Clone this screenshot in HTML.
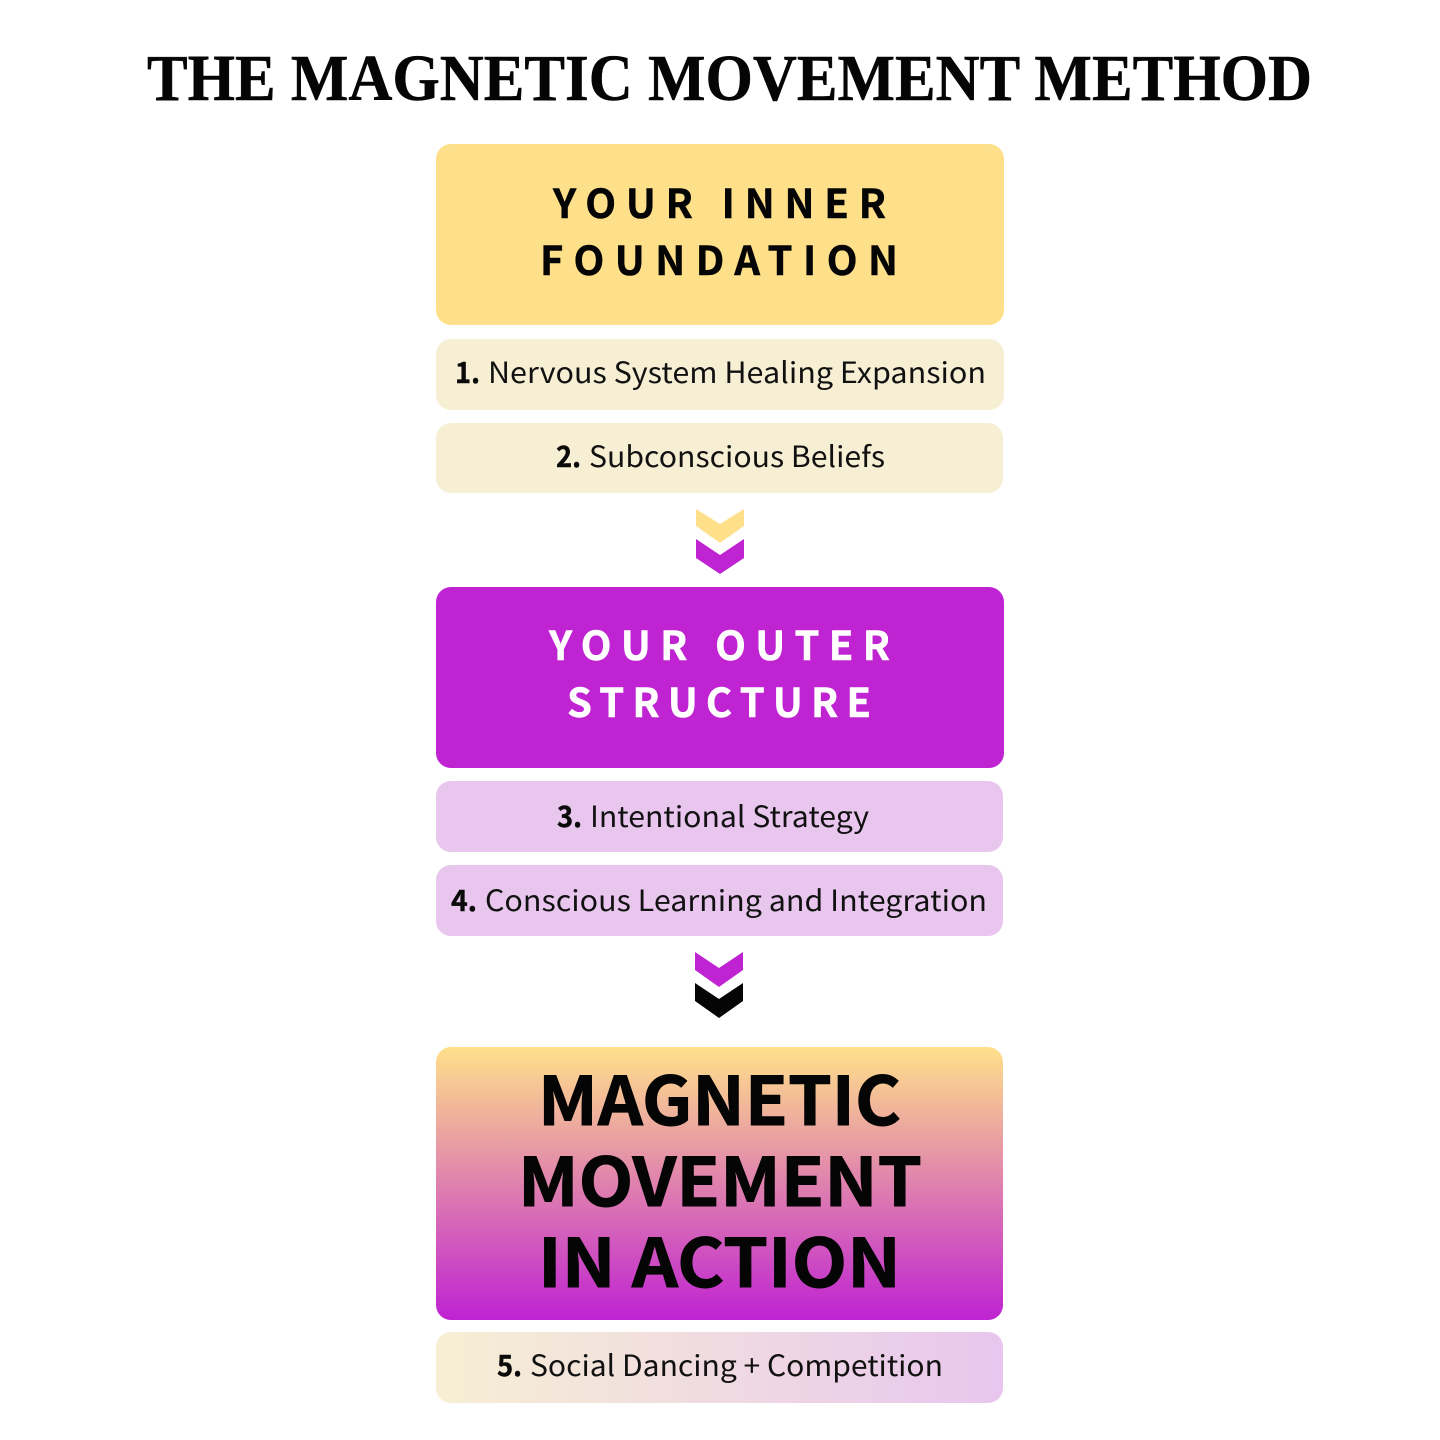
<!DOCTYPE html>
<html><head><meta charset="utf-8"><title>The Magnetic Movement Method</title>
<style>html,body{margin:0;padding:0;background:#fff}svg{display:block}
.h{font:700 40px "Noto Sans CJK JP","DejaVu Sans",sans-serif;fill:#050505;stroke:#050505;stroke-width:.5}
.w{fill:#fff;stroke:#fff}
.b{font:700 29px "Noto Sans CJK JP","DejaVu Sans",sans-serif;fill:#0a0a0a;stroke:#0a0a0a;stroke-width:.4}
.r{font:400 29px "Noto Sans CJK JP","DejaVu Sans",sans-serif;fill:#111}
.m{font:700 67px "Noto Sans CJK JP","DejaVu Sans",sans-serif;fill:#050505;stroke:#050505;stroke-width:.9}
</style></head><body>
<svg xmlns="http://www.w3.org/2000/svg" width="1440" height="1440" viewBox="0 0 1440 1440">
<defs>
<linearGradient id="g1" x1="0" y1="0" x2="0" y2="1"><stop offset="0" stop-color="#FFE08A"/><stop offset="1" stop-color="#BF23D2"/></linearGradient>
<linearGradient id="g2" x1="0" y1="0" x2="1" y2="0"><stop offset="0" stop-color="#F7EFD4"/><stop offset="1" stop-color="#E8C6EE"/></linearGradient>
</defs>
<rect width="1440" height="1440" fill="#fff"/>
<text x="147" y="100" font-family="'Liberation Serif',serif" font-weight="700" font-size="66" fill="#050505" stroke="#050505" stroke-width=".5" textLength="1165" lengthAdjust="spacingAndGlyphs">THE MAGNETIC MOVEMENT METHOD</text>

<rect x="436" y="144" width="568" height="181" rx="15" fill="#FFE08A"/>
<text class="h" x="553" y="218" textLength="333" lengthAdjust="spacing">YOUR INNER</text>
<text class="h" x="540" y="275" textLength="358" lengthAdjust="spacing">FOUNDATION</text>

<rect x="436" y="339" width="568" height="71" rx="15" fill="#F7EFD4"/>
<text class="b" x="455" y="383" textLength="25" lengthAdjust="spacingAndGlyphs">1.</text>
<text class="r" x="488" y="383" textLength="498" lengthAdjust="spacingAndGlyphs">Nervous System Healing Expansion</text>

<rect x="436" y="423" width="567" height="70" rx="15" fill="#F7EFD4"/>
<text class="b" x="556" y="467" textLength="25" lengthAdjust="spacingAndGlyphs">2.</text>
<text class="r" x="589" y="467" textLength="296" lengthAdjust="spacingAndGlyphs">Subconscious Beliefs</text>

<polygon points="696,509 720,524 744,509 744,526 720,543 696,526" fill="#FFE08A"/>
<polygon points="696,539 720,555 744,539 744,558 720,574 696,558" fill="#BF23D2"/>

<rect x="436" y="587" width="568" height="181" rx="15" fill="#BF23D2"/>
<text class="h w" x="549" y="660" textLength="341" lengthAdjust="spacing">YOUR OUTER</text>
<text class="h w" x="567" y="717" textLength="304" lengthAdjust="spacing">STRUCTURE</text>

<rect x="436" y="781" width="567" height="71" rx="15" fill="#E8C6EE"/>
<text class="b" x="557" y="827" textLength="25" lengthAdjust="spacingAndGlyphs">3.</text>
<text class="r" x="590" y="827" textLength="279" lengthAdjust="spacingAndGlyphs">Intentional Strategy</text>

<rect x="436" y="865" width="567" height="71" rx="15" fill="#E8C6EE"/>
<text class="b" x="451" y="911" textLength="26" lengthAdjust="spacingAndGlyphs">4.</text>
<text class="r" x="485" y="911" textLength="502" lengthAdjust="spacingAndGlyphs">Conscious Learning and Integration</text>

<polygon points="695,952 719,968 743,952 743,970 719,987 695,970" fill="#BF23D2"/>
<polygon points="695,983 719,999 743,983 743,1001 719,1018 695,1001" fill="#050505"/>

<rect x="436" y="1047" width="567" height="273" rx="15" fill="url(#g1)"/>
<text class="m" x="538" y="1125" textLength="363" lengthAdjust="spacingAndGlyphs">MAGNETIC</text>
<text class="m" x="518" y="1206" textLength="404" lengthAdjust="spacingAndGlyphs">MOVEMENT</text>
<text class="m" x="538" y="1287" textLength="363" lengthAdjust="spacingAndGlyphs">IN ACTION</text>

<rect x="436" y="1332" width="567" height="71" rx="15" fill="url(#g2)"/>
<text class="b" x="497" y="1376" textLength="25" lengthAdjust="spacingAndGlyphs">5.</text>
<text class="r" x="530" y="1376" textLength="413" lengthAdjust="spacingAndGlyphs">Social Dancing + Competition</text>
</svg>
</body></html>
